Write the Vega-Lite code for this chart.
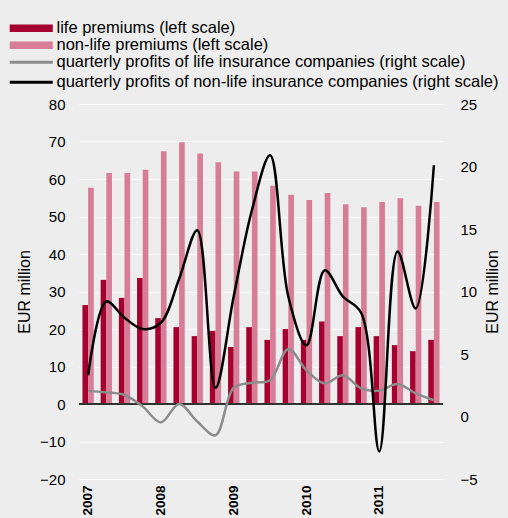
{
  "$schema": "https://vega.github.io/schema/vega-lite/v6.json",
  "width": 364,
  "height": 375,
  "autosize": {"type": "none"},
  "padding": {"left": 79, "top": 104, "right": 65, "bottom": 39},
  "background": "#ECEDEC",
  "config": {
    "view": {"stroke": null},
    "font": "Liberation Sans",
    "axis": {"labelColor": "#000000", "titleColor": "#000000"},
    "legend": {"labelColor": "#000000", "padding": 0, "labelLimit": 0}
  },
  "data": {
    "values": [
      {"q": "2007Q1", "life": 26.4, "nonlife": 57.7, "lifeP": 2.05, "nonlifeP": 3.3},
      {"q": "2007Q2", "life": 33.1, "nonlife": 61.6, "lifeP": 1.93, "nonlifeP": 9.2},
      {"q": "2007Q3", "life": 28.3, "nonlife": 61.6, "lifeP": 1.72, "nonlifeP": 7.9},
      {"q": "2007Q4", "life": 33.6, "nonlife": 62.5, "lifeP": 0.8, "nonlifeP": 7.0},
      {"q": "2008Q1", "life": 22.9, "nonlife": 67.4, "lifeP": -0.47, "nonlifeP": 7.5},
      {"q": "2008Q2", "life": 20.5, "nonlife": 69.8, "lifeP": 1.0, "nonlifeP": 11.0},
      {"q": "2008Q3", "life": 18.1, "nonlife": 66.8, "lifeP": -0.4, "nonlifeP": 14.9},
      {"q": "2008Q4", "life": 19.5, "nonlife": 64.5, "lifeP": -1.5, "nonlifeP": 2.3},
      {"q": "2009Q1", "life": 15.2, "nonlife": 62.0, "lifeP": 2.3, "nonlifeP": 9.6},
      {"q": "2009Q2", "life": 20.5, "nonlife": 62.0, "lifeP": 2.7, "nonlifeP": 16.5},
      {"q": "2009Q3", "life": 17.1, "nonlife": 58.2, "lifeP": 2.9, "nonlifeP": 20.9},
      {"q": "2009Q4", "life": 20.0, "nonlife": 55.8, "lifeP": 5.4, "nonlifeP": 9.6},
      {"q": "2010Q1", "life": 17.1, "nonlife": 54.4, "lifeP": 3.7, "nonlifeP": 5.7},
      {"q": "2010Q2", "life": 22.0, "nonlife": 56.3, "lifeP": 2.65, "nonlifeP": 11.7},
      {"q": "2010Q3", "life": 18.1, "nonlife": 53.3, "lifeP": 3.3, "nonlifeP": 9.6},
      {"q": "2010Q4", "life": 20.5, "nonlife": 52.5, "lifeP": 2.25, "nonlifeP": 8.3},
      {"q": "2011Q1", "life": 18.1, "nonlife": 53.9, "lifeP": 2.07, "nonlifeP": -2.8},
      {"q": "2011Q2", "life": 15.7, "nonlife": 54.9, "lifeP": 2.6, "nonlifeP": 13.2},
      {"q": "2011Q3", "life": 14.1, "nonlife": 52.9, "lifeP": 1.85, "nonlifeP": 8.65},
      {"q": "2011Q4", "life": 17.1, "nonlife": 53.9, "lifeP": 1.3, "nonlifeP": 20.1}
    ]
  },
  "layer": [
    {
      "transform": [{"fold": ["life", "nonlife"], "as": ["series", "value"]}],
      "layer": [
        {
          "mark": {"type": "bar"},
          "encoding": {
            "x": {
              "field": "q", "type": "ordinal", "sort": null,
              "scale": {"paddingInner": 0.38, "paddingOuter": 0.19},
              "axis": {
                "title": null, "ticks": false, "domain": false, "grid": false,
                "labelAngle": 270, "labelFontWeight": "bold", "labelFontSize": 13.5,
                "labelPadding": 6, "labelOverlap": false,
                "labelExpr": "slice(datum.value, 4) == 'Q1' ? slice(datum.value, 0, 4) : ''"
              }
            },
            "xOffset": {"field": "series", "type": "nominal", "scale": {"domain": ["life", "nonlife"], "paddingInner": 0, "paddingOuter": 0}},
            "y": {
              "field": "value", "type": "quantitative",
              "scale": {"domain": [-20, 80], "nice": false, "zero": false},
              "axis": {
                "orient": "left", "values": [-20, -10, 0, 10, 20, 30, 40, 50, 60, 70, 80],
                "grid": true, "gridColor": "#FFFFFF", "gridWidth": 1.2, "ticks": false, "domain": false,
                "labelFontSize": 15, "labelPadding": 14, "labelOverlap": false,
                "title": "EUR million", "titleFontSize": 16, "titleFontWeight": "normal", "titlePadding": 7
              }
            },
            "fill": {
              "field": "series", "type": "nominal",
              "scale": {"domain": ["life", "nonlife"], "range": ["#A5002F", "#D87D97"]},
              "legend": {
                "orient": "none", "legendX": -56, "legendY": -84, "title": null,
                "direction": "vertical",
                "symbolType": "M-8,-1.4H8V1.4H-8Z", "symbolSize": 29, "symbolStrokeWidth": 0, "symbolOpacity": 1,
                "labelFontSize": 16.5, "labelOffset": 17, "rowPadding": -2,
                "labelExpr": "datum.value == 'life' ? 'life premiums (left scale)' : 'non-life premiums (left scale)'"
              }
            }
          }
        },
        {
          "mark": {"type": "rule", "color": "#333333", "strokeWidth": 1.5},
          "encoding": {
            "y": {
              "datum": 0, "type": "quantitative",
              "scale": {"domain": [-20, 80], "nice": false, "zero": false},
              "axis": {
                "orient": "left", "values": [-20, -10, 0, 10, 20, 30, 40, 50, 60, 70, 80],
                "grid": true, "gridColor": "#FFFFFF", "gridWidth": 1.2, "ticks": false, "domain": false,
                "labelFontSize": 15, "labelPadding": 14, "labelOverlap": false,
                "title": "EUR million", "titleFontSize": 16, "titleFontWeight": "normal", "titlePadding": 7
              }
            }
          }
        }
      ]
    },
    {
      "transform": [{"fold": ["lifeP", "nonlifeP"], "as": ["series2", "value2"]}],
      "mark": {"type": "line", "interpolate": "catmull-rom", "strokeWidth": 2.5},
      "encoding": {
        "x": {
          "field": "q", "type": "ordinal", "sort": null,
          "scale": {"paddingInner": 0.38, "paddingOuter": 0.19},
          "axis": {
            "title": null, "ticks": false, "domain": false, "grid": false,
            "labelAngle": 270, "labelFontWeight": "bold", "labelFontSize": 13.5,
            "labelPadding": 6, "labelOverlap": false,
            "labelExpr": "slice(datum.value, 4) == 'Q1' ? slice(datum.value, 0, 4) : ''"
          }
        },
        "y": {
          "field": "value2", "type": "quantitative",
          "scale": {"domain": [-5, 25], "nice": false, "zero": false},
          "axis": {
            "orient": "right", "values": [-5, 0, 5, 10, 15, 20, 25],
            "grid": false, "ticks": false, "domain": false,
            "labelFontSize": 15, "labelPadding": 17, "labelOverlap": false,
            "title": "EUR million", "titleFontSize": 16, "titleFontWeight": "normal",
            "titlePadding": 7, "titleAngle": 270, "titleBaseline": "top"
          }
        },
        "stroke": {
          "field": "series2", "type": "nominal",
          "scale": {"domain": ["lifeP", "nonlifeP"], "range": ["#8C8C8C", "#000000"]},
          "legend": {
            "orient": "none", "legendX": -56, "legendY": -50, "title": null,
            "direction": "vertical",
            "symbolType": "M-8,0H8", "symbolSize": 29, "symbolStrokeWidth": 3,
            "labelFontSize": 16.5, "labelOffset": 17, "rowPadding": 3,
            "labelExpr": "datum.value == 'lifeP' ? 'quarterly profits of life insurance companies (right scale)' : 'quarterly profits of non-life insurance companies (right scale)'"
          }
        }
      }
    }
  ],
  "resolve": {"scale": {"y": "independent"}}
}
